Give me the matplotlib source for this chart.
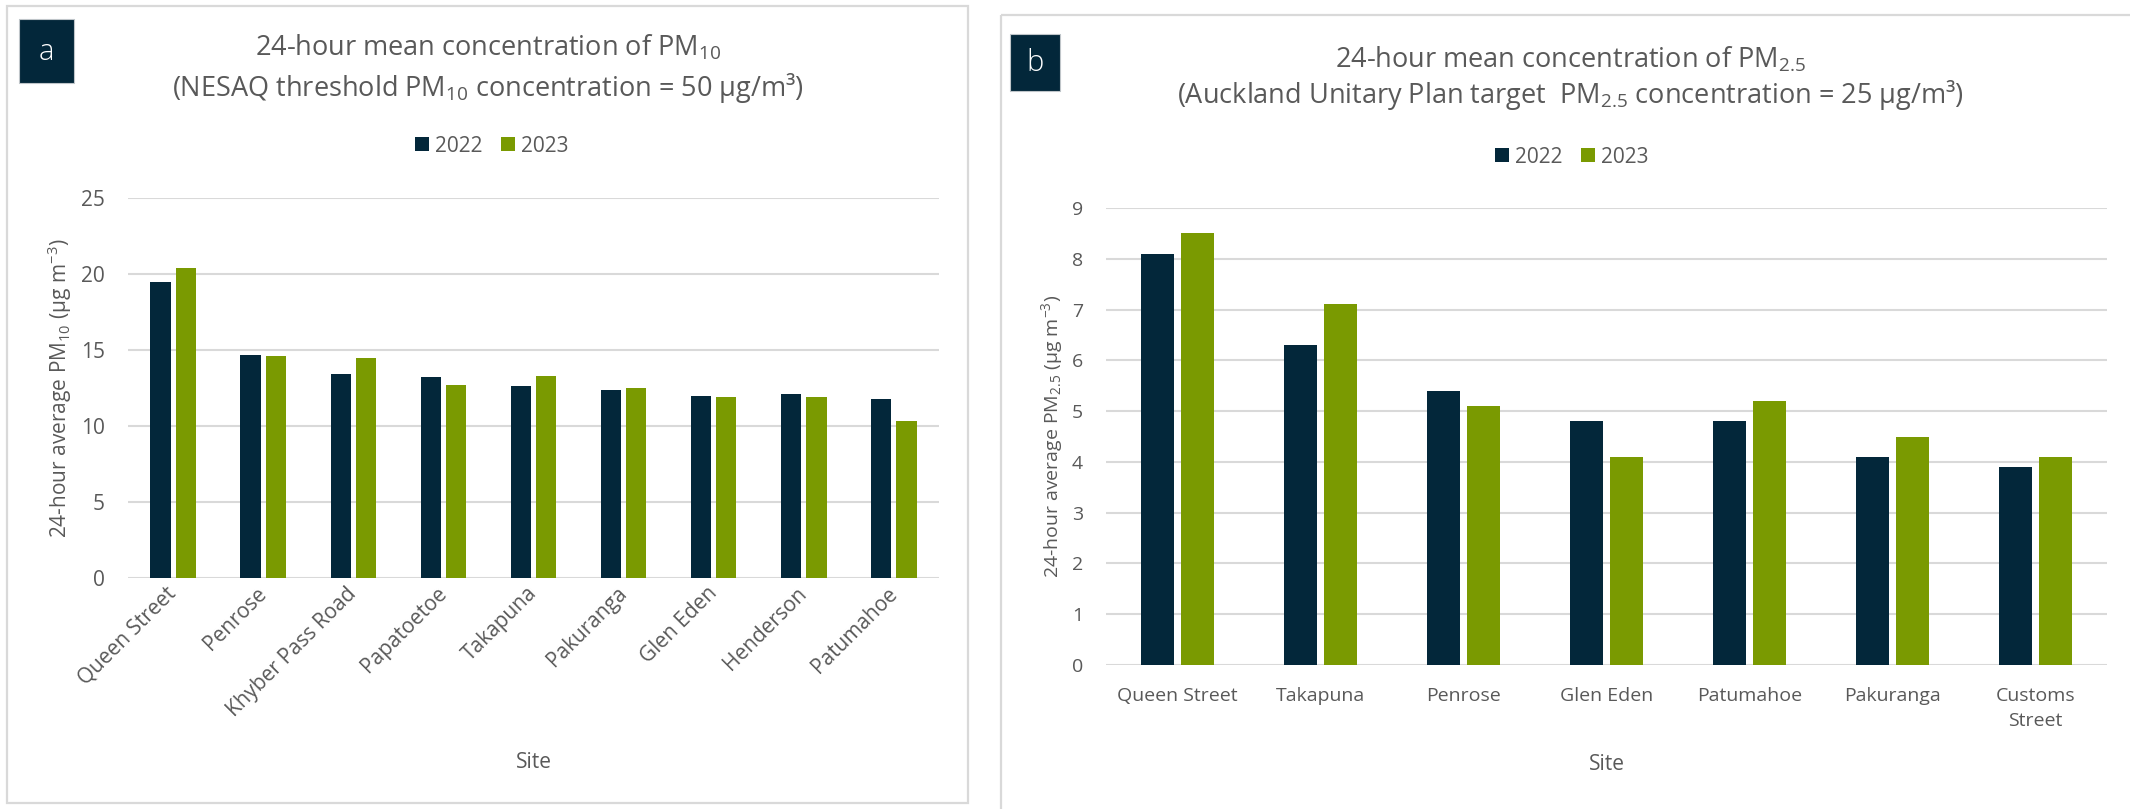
import matplotlib
matplotlib.use("Agg")
import matplotlib.pyplot as plt
from matplotlib.patches import Rectangle
import numpy as np

plt.rcParams['font.family'] = ['Open Sans', 'DejaVu Sans']
plt.rcParams['mathtext.fontset'] = 'custom'
plt.rcParams['mathtext.rm'] = 'Open Sans'
plt.rcParams['mathtext.it'] = 'Open Sans:italic'
plt.rcParams['mathtext.bf'] = 'Open Sans:bold'
plt.rcParams['mathtext.default'] = 'regular'

# ---- data ----
years = ['2022', '2023']

pm10_sites = ['Queen Street', 'Penrose', 'Khyber Pass Road', 'Papatoetoe',
              'Takapuna', 'Pakuranga', 'Glen Eden', 'Henderson', 'Patumahoe']
pm10_2022 = [19.5, 14.7, 13.4, 13.2, 12.6, 12.4, 12.0, 12.1, 11.8]
pm10_2023 = [20.4, 14.6, 14.5, 12.7, 13.3, 12.5, 11.9, 11.9, 10.3]

pm25_sites = ['Queen Street', 'Takapuna', 'Penrose', 'Glen Eden',
              'Patumahoe', 'Pakuranga', 'Customs\nStreet']
pm25_2022 = [8.1, 6.3, 5.4, 4.8, 4.8, 4.1, 3.9]
pm25_2023 = [8.5, 7.1, 5.1, 4.1, 5.2, 4.5, 4.1]

pm10_yticks = [0, 5, 10, 15, 20, 25]
pm25_yticks = [0, 1, 2, 3, 4, 5, 6, 7, 8, 9]

# ---- style ----
NAVY = '#03273A'
GREEN = '#7A9A01'
GRID = '#D9D9D9'
TEXT = '#595959'
BORDER = '#D9D9D9'

W, H = 2130, 809
fig = plt.figure(figsize=(W / 100, H / 100), dpi=100)
fig.patch.set_facecolor('white')

# pixel-space overlay for frames, badges and titles
bg = fig.add_axes([0, 0, 1, 1])
bg.set_xlim(0, W)
bg.set_ylim(H, 0)
bg.axis('off')


def px_axes(x0, y0, x1, y1):
    return fig.add_axes([x0 / W, 1 - y1 / H, (x1 - x0) / W, (y1 - y0) / H])


def panel_frame(x0, y0, x1, y1):
    bg.add_patch(Rectangle((x0, y0), x1 - x0, y1 - y0, fill=False,
                           ec=BORDER, lw=1.6))


def badge(x0, y0, x1, y1, letter):
    bg.add_patch(Rectangle((x0, y0), x1 - x0, y1 - y0, fc=NAVY,
                           ec='#BFC5C9', lw=0.8))
    bg.text((x0 + x1) / 2, (y0 + y1) / 2 + 1, letter, color='white',
            fontsize=21, ha='center', va='center', fontweight='light')


def bar_panel(ax, sites, v22, v23, yticks, tick_fs):
    x = np.arange(len(sites))
    bw, off = 0.225, 0.14
    ax.bar(x - off, v22, width=bw, color=NAVY, label=years[0], zorder=3)
    ax.bar(x + off, v23, width=bw, color=GREEN, label=years[1], zorder=3)
    ax.set_xlim(-0.5, len(sites) - 0.5)
    ax.set_ylim(yticks[0], yticks[-1])
    ax.set_yticks(yticks)
    ax.set_xticks(x)
    ax.yaxis.grid(True, color=GRID, lw=1.5)
    ax.set_axisbelow(True)
    for s in ax.spines.values():
        s.set_visible(False)
    ax.tick_params(axis='both', length=0, colors=TEXT, labelsize=tick_fs)
    ax.tick_params(axis='y', pad=16.5)
    return ax


# ---- panel a: PM10 ----
panel_frame(7, 6, 968, 803)
badge(19, 19, 74, 83, 'a')
bg.text(488, 55, '24-hour mean concentration of PM$_{10}$', color=TEXT,
        fontsize=19.5, ha='center', va='baseline')
bg.text(488, 96, '(NESAQ threshold PM$_{10}$ concentration = 50 μg/m³)',
        color=TEXT, fontsize=19.5, ha='center', va='baseline')

axa = px_axes(128, 198, 939, 578)
bar_panel(axa, pm10_sites, pm10_2022, pm10_2023, pm10_yticks, 15)
axa.set_xticklabels(pm10_sites, rotation=45, ha='right', va='center',
                    rotation_mode='anchor')
axa.tick_params(axis='x', pad=9, labelsize=15)
axa.set_ylabel('24-hour average PM$_{10}$ (μg m$^{-3}$)', color=TEXT,
               fontsize=15, va='center')
axa.yaxis.set_label_coords((60 - 128) / 811, 0.5)
axa.set_xlabel('Site', color=TEXT, fontsize=15, va='center')
axa.xaxis.set_label_coords(0.5, (578 - 763) / 380)
axa.legend(loc='center', bbox_to_anchor=(492, 146),
           bbox_transform=bg.transData, ncol=2, frameon=False,
           fontsize=15, labelcolor=TEXT, handlelength=0.65,
           handleheight=0.65, handletextpad=0.3, columnspacing=0.9)

# ---- panel b: PM2.5 ----
panel_frame(1001, 15, 2145, 830)
badge(1010, 34, 1060, 91, 'b')
bg.text(1570, 67, '24-hour mean concentration of PM$_{2.5}$', color=TEXT,
        fontsize=19.5, ha='center', va='baseline')
bg.text(1570, 103,
        '(Auckland Unitary Plan target  PM$_{2.5}$ concentration = 25 μg/m³)',
        color=TEXT, fontsize=19.5, ha='center', va='baseline')

axb = px_axes(1106, 208, 2107, 665)
bar_panel(axb, pm25_sites, pm25_2022, pm25_2023, pm25_yticks, 14)
axb.set_xticklabels(pm25_sites, linespacing=1.5, ha='center')
axb.tick_params(axis='x', pad=16)
axb.set_ylabel('24-hour average PM$_{2.5}$ (μg m$^{-3}$)', color=TEXT,
               fontsize=14, va='center')
axb.yaxis.set_label_coords((1052 - 1106) / 1001, 0.5)
axb.set_xlabel('Site', color=TEXT, fontsize=15, va='center')
axb.xaxis.set_label_coords(0.5, (665 - 765) / 457)
axb.legend(loc='center', bbox_to_anchor=(1572, 157),
           bbox_transform=bg.transData, ncol=2, frameon=False,
           fontsize=15, labelcolor=TEXT, handlelength=0.65,
           handleheight=0.65, handletextpad=0.3, columnspacing=0.9)

fig.savefig('out.png', dpi=100, facecolor='white')
